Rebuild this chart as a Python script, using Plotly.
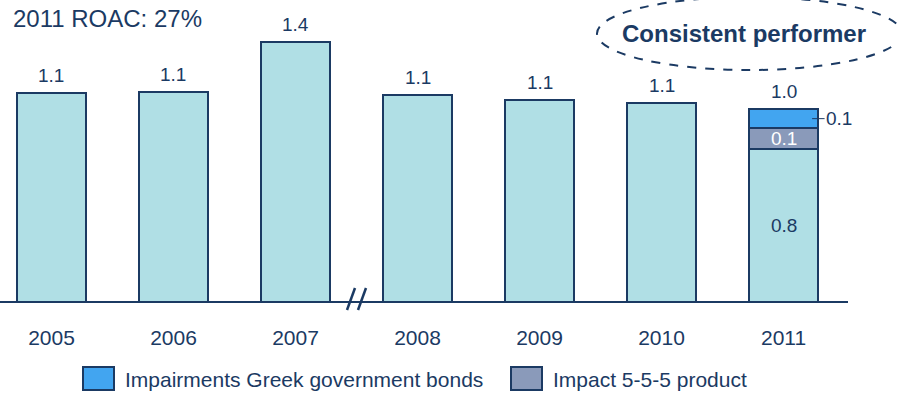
import plotly.graph_objects as go

# values, per year
years = ["2005", "2006", "2007", "2008", "2009", "2010", "2011"]
core = [1.10, 1.105, 1.37, 1.09, 1.065, 1.05, 0.805]
impact_555 = [0, 0, 0, 0, 0, 0, 0.11]
greek_bonds = [0, 0, 0, 0, 0, 0, 0.10]
series_names = ["Impairments Greek government bonds", "Impact 5-5-5 product"]
title_text = "2011 ROAC: 27%"
callout_text = "Consistent performer"

navy = "#1B3A63"
fill_core = "#B0DFE5"
fill_555 = "#8A9ABA"
fill_greek = "#42A5F0"
font = "Liberation Sans, Arial, sans-serif"

W, H = 897, 394
base_px = 302  # pixel row of the baseline


def px(x):
    return x / W


def py(y):
    return (base_px - y) / base_px


fig = go.Figure()
line = dict(color=navy, width=2)
fig.add_bar(x=years, y=core, marker=dict(color=fill_core, line=line), width=0.566, hoverinfo="skip")
fig.add_bar(x=years[-1:], y=impact_555[-1:], marker=dict(color=fill_555, line=line), width=0.566,
            name=series_names[1], hoverinfo="skip")
fig.add_bar(x=years[-1:], y=greek_bonds[-1:], marker=dict(color=fill_greek, line=line), width=0.566,
            name=series_names[0], hoverinfo="skip")

totals = [c + a + b for c, a, b in zip(core, impact_555, greek_bonds)]
ann = []
for i, t in enumerate(totals):
    ann.append(dict(x=i, y=t, text=f"{t:.1f}", showarrow=False, yanchor="bottom", yshift=5,
                    font=dict(size=19, color=navy)))

# labels inside / next to the 2011 stack
n = len(years) - 1
ann.append(dict(x=n, y=core[-1] / 2, text=f"{core[-1]:.1f}", showarrow=False,
                font=dict(size=19, color=navy)))
ann.append(dict(x=n, y=core[-1] + impact_555[-1] / 2, text=f"{impact_555[-1]:.1f}", showarrow=False,
                font=dict(size=19, color="white")))
ann.append(dict(x=n + 0.234, y=core[-1] + impact_555[-1] + greek_bonds[-1] / 2, text=f"{greek_bonds[-1]:.1f}",
                showarrow=True, arrowhead=0, arrowwidth=1, arrowcolor=navy, ax=27, ay=0,
                font=dict(size=19, color=navy)))

ann.append(dict(x=px(11), y=py(19), xref="paper", yref="paper", text=title_text, showarrow=False,
                xanchor="left", yanchor="middle", font=dict(size=24, color=navy)))
ann.append(dict(x=px(744), y=py(33), xref="paper", yref="paper", text="<b>" + callout_text + "</b>",
                showarrow=False, xanchor="center", yanchor="middle", font=dict(size=24, color=navy)))

# legend drawn by hand (the boxes in the original are wider than plotly's symbols)
leg = [(83, series_names[0], fill_greek), (511, series_names[1], fill_555)]
shapes = []
for x0, name, col in leg:
    shapes.append(dict(type="rect", xref="paper", yref="paper", x0=px(x0), x1=px(x0 + 31),
                       y0=py(390), y1=py(367), fillcolor=col, line=dict(color=navy, width=2)))
    ann.append(dict(x=px(x0 + 40), y=py(379), xref="paper", yref="paper", text=name, showarrow=False,
                    xanchor="left", yanchor="middle", font=dict(size=21, color=navy)))

# baseline, axis break and dashed ellipse
shapes.append(dict(type="line", xref="paper", yref="paper", x0=0, x1=px(848), y0=0, y1=0,
                   line=dict(color=navy, width=2)))
for dx in (0, 11):
    shapes.append(dict(type="line", xref="paper", yref="paper", x0=px(347 + dx), x1=px(355 + dx),
                       y0=py(310), y1=py(288), line=dict(color=navy, width=2.5)))
shapes.append(dict(type="circle", xref="paper", yref="paper", x0=px(597), x1=px(902),
                   y0=py(70), y1=py(-3), line=dict(color=navy, width=2, dash="dash")))

fig.update_layout(
    barmode="stack", width=W, height=H, showlegend=False,
    margin=dict(l=0, r=0, t=0, b=H - base_px),
    plot_bgcolor="white", paper_bgcolor="white",
    font=dict(family=font, color=navy),
    annotations=ann, shapes=shapes,
)
fig.update_xaxes(type="category", range=[-0.422, 6.93], showgrid=False, showline=False, zeroline=False,
                 ticks="outside", ticklen=17, tickcolor="rgba(0,0,0,0)", tickfont=dict(size=21, color=navy))
fig.update_yaxes(range=[0, base_px / 190], visible=False)

# page body has an 8px default margin, drop it so the chart sits at the window corner
fig.write_html("out.html", config={"displayModeBar": False},
               post_script="document.body.style.margin='0';")
